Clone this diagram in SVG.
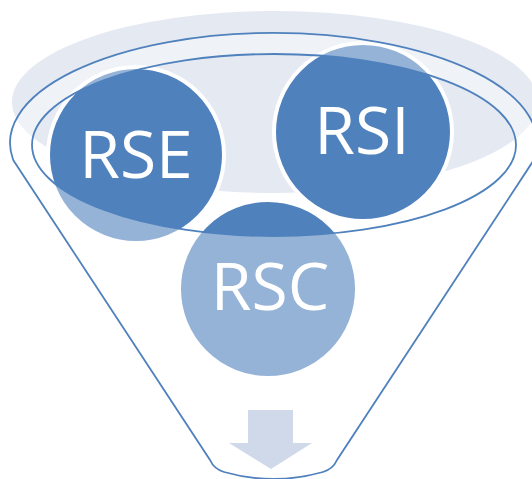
<svg xmlns="http://www.w3.org/2000/svg" width="532" height="479" viewBox="0 0 532 479">
  <style>
    .circ { fill: #4f81bd; stroke: #ffffff; stroke-width: 4; }
    .lbl { fill: #ffffff; font-family: "Open Sans", "Noto Sans", "Liberation Sans", sans-serif; font-size: 66px; text-anchor: middle; }
    .outline { fill: none; stroke: #4f81bd; stroke-width: 1.8; }
  </style>
  <defs>
    <path id="funnelBody" d="M 13.2 160 A 263.5 110 0 1 1 533.8 160 L 337 460 Q 333 469 323 472 Q 273.5 486 224 472 Q 214 469 210 460 Z"/>
  </defs>
  <rect width="532" height="479" fill="#ffffff"/>
  <g id="funnel-back">
    <ellipse cx="275" cy="102" rx="263" ry="91" fill="#e4e9f2"/>
  </g>
  <g id="node-rse">
    <circle class="circ" cx="136" cy="155" r="88"/>
  </g>
  <g id="node-rsi">
    <circle class="circ" cx="363" cy="132" r="89"/>
  </g>
  <g id="node-rsc">
    <circle class="circ" cx="268" cy="289" r="89"/>
  </g>
  <g id="funnel">
    <path fill="#ffffff" fill-opacity="0.4" fill-rule="evenodd" d="M 13.2 160 A 263.5 110 0 1 1 533.8 160 L 337 460 Q 333 469 323 472 Q 273.5 486 224 472 Q 214 469 210 460 Z M 32 145 A 242 91 0 1 0 516 145 A 242 91 0 1 0 32 145 Z"/>
    <use href="#funnelBody" class="outline"/>
    <ellipse class="outline" cx="274" cy="145" rx="242" ry="91"/>
  </g>
  <g id="labels">
    <text class="lbl" x="136" y="178">RSE</text>
    <text class="lbl" x="362" y="154">RSI</text>
    <text class="lbl" x="270" y="310">RSC</text>
  </g>
  <g id="arrow">
    <polygon points="248,410 293,410 293,443 312,443 271,469 229,443 248,443" fill="#cfd9ea"/>
  </g>
</svg>
